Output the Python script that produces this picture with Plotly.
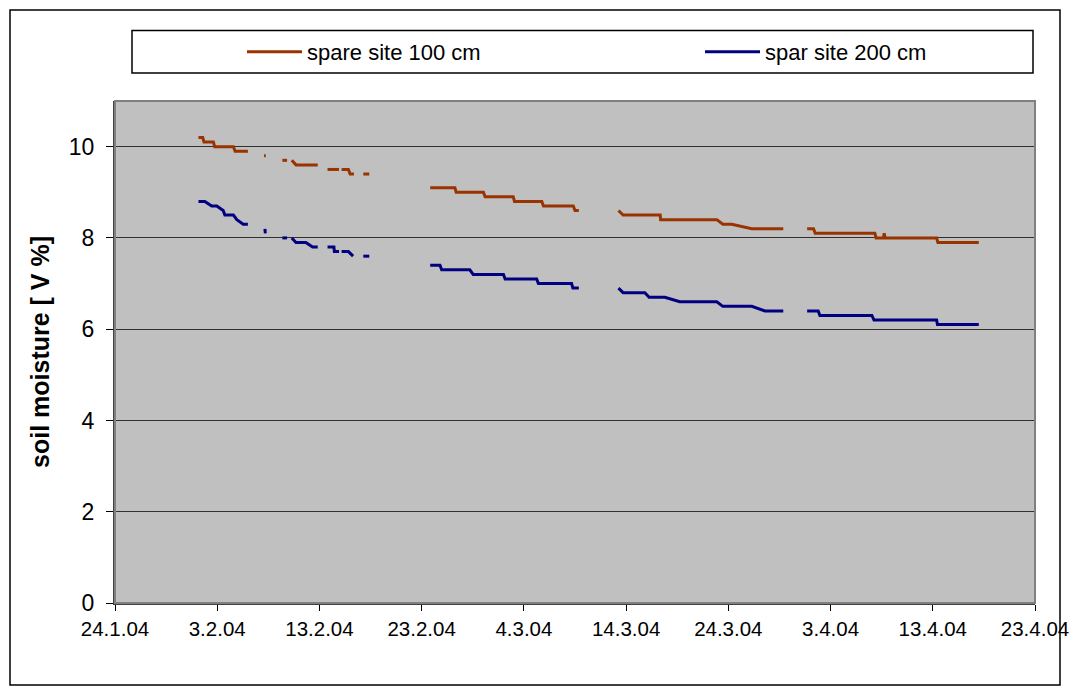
import plotly.graph_objects as go

# ---- data (None marks a gap in the record) ----
dates_100 = [
    "2004-02-01 04:00", "2004-02-01 14:00", "2004-02-01 17:00", "2004-02-02 15:00", "2004-02-02 18:00",
    "2004-02-04 14:00", "2004-02-04 18:00", "2004-02-06 00:00", None,
    "2004-02-07 14:00", "2004-02-07 18:00", None,
    "2004-02-09 09:00", "2004-02-09 20:00", None,
    "2004-02-10 07:00", "2004-02-10 17:00", "2004-02-12 20:00", None,
    "2004-02-13 19:00", "2004-02-14 22:00", None,
    "2004-02-15 04:00", "2004-02-15 20:00", "2004-02-16 00:00", "2004-02-16 09:00", None,
    "2004-02-17 07:00", "2004-02-17 21:00", None,
    "2004-02-23 20:00", "2004-02-26 06:00", "2004-02-26 09:00", "2004-02-29 01:00", "2004-02-29 05:00",
    "2004-03-02 23:00", "2004-03-03 02:00", "2004-03-05 18:00", "2004-03-05 22:00", "2004-03-08 20:00",
    "2004-03-09 00:00", "2004-03-09 09:00", None,
    "2004-03-13 06:00", "2004-03-13 17:00", "2004-03-17 08:00", "2004-03-17 09:00", "2004-03-22 21:00",
    "2004-03-23 11:00", "2004-03-24 08:00", "2004-03-26 07:00", "2004-03-29 09:00", None,
    "2004-03-31 17:00", "2004-04-01 08:00", "2004-04-01 12:00", "2004-04-07 08:00", "2004-04-07 11:00",
    "2004-04-08 04:00", "2004-04-08 06:00", "2004-04-08 08:00", "2004-04-13 09:00", "2004-04-13 12:00",
    "2004-04-17 12:00",
]
vals_100 = [
    10.2, 10.2, 10.1, 10.1, 10.0,
    10.0, 9.9, 9.9, None,
    9.8, 9.8, None,
    9.7, 9.7, None,
    9.7, 9.6, 9.6, None,
    9.5, 9.5, None,
    9.5, 9.5, 9.4, 9.4, None,
    9.4, 9.4, None,
    9.1, 9.1, 9.0, 9.0, 8.9,
    8.9, 8.8, 8.8, 8.7, 8.7,
    8.6, 8.6, None,
    8.6, 8.5, 8.5, 8.4, 8.4,
    8.3, 8.3, 8.2, 8.2, None,
    8.2, 8.2, 8.1, 8.1, 8.0,
    8.0, 8.1, 8.0, 8.0, 7.9,
    7.9,
]

dates_200 = [
    "2004-02-01 04:00", "2004-02-01 19:00", "2004-02-02 11:00", "2004-02-02 23:00", "2004-02-03 14:00",
    "2004-02-03 18:00", "2004-02-04 14:00", "2004-02-04 22:00", "2004-02-05 13:00", "2004-02-06 00:00", None,
    "2004-02-07 16:00", "2004-02-07 17:00", None,
    "2004-02-09 09:00", "2004-02-09 20:00", None,
    "2004-02-10 07:00", "2004-02-10 17:00", "2004-02-11 16:00", "2004-02-12 08:00", "2004-02-12 20:00", None,
    "2004-02-13 19:00", "2004-02-14 10:00", "2004-02-14 11:00", "2004-02-14 22:00", None,
    "2004-02-15 04:00", "2004-02-15 20:00", "2004-02-16 07:00", None,
    "2004-02-17 07:00", "2004-02-17 21:00", None,
    "2004-02-23 20:00", "2004-02-24 19:00", "2004-02-24 23:00", "2004-02-27 17:00", "2004-02-28 01:00",
    "2004-03-02 00:00", "2004-03-02 04:00", "2004-03-05 06:00", "2004-03-05 10:00", "2004-03-08 16:00",
    "2004-03-08 19:00", "2004-03-09 09:00", None,
    "2004-03-13 06:00", "2004-03-13 17:00", "2004-03-15 20:00", "2004-03-16 06:00", "2004-03-17 19:00",
    "2004-03-19 06:00", "2004-03-22 21:00", "2004-03-23 11:00", "2004-03-26 07:00", "2004-03-27 14:00",
    "2004-03-29 09:00", None,
    "2004-03-31 17:00", "2004-04-01 19:00", "2004-04-01 23:00", "2004-04-07 01:00", "2004-04-07 06:00",
    "2004-04-13 09:00", "2004-04-13 11:00", "2004-04-17 12:00",
]
vals_200 = [
    8.8, 8.8, 8.7, 8.7, 8.6,
    8.5, 8.5, 8.4, 8.3, 8.3, None,
    8.2, 8.1, None,
    8.0, 8.0, None,
    8.0, 7.9, 7.9, 7.8, 7.8, None,
    7.8, 7.8, 7.7, 7.7, None,
    7.7, 7.7, 7.6, None,
    7.6, 7.6, None,
    7.4, 7.4, 7.3, 7.3, 7.2,
    7.2, 7.1, 7.1, 7.0, 7.0,
    6.9, 6.9, None,
    6.9, 6.8, 6.8, 6.7, 6.7,
    6.6, 6.6, 6.5, 6.5, 6.4,
    6.4, None,
    6.4, 6.4, 6.3, 6.3, 6.2,
    6.2, 6.1, 6.1,
]

series_names = ["spare site 100 cm", "spar site 200 cm"]
series_colors = ["#993300", "#000080"]

x_range = ["2004-01-24", "2004-04-23"]
y_range = [0, 11]

FONT = "Arial, Liberation Sans, sans-serif"

fig = go.Figure()
fig.add_trace(go.Scatter(x=dates_100, y=vals_100, mode="lines", name=series_names[0],
                         line=dict(color=series_colors[0], width=3), connectgaps=False,
                         legend="legend"))
fig.add_trace(go.Scatter(x=dates_200, y=vals_200, mode="lines", name=series_names[1],
                         line=dict(color=series_colors[1], width=3), connectgaps=False,
                         legend="legend2"))

leg_common = dict(
    orientation="h", xanchor="left", yanchor="middle",
    y=(603 - 52) / 502,
    bgcolor="rgba(0,0,0,0)", borderwidth=0,
    font=dict(family=FONT, size=22, color="black"),
    itemwidth=55,
)

fig.update_layout(
    width=1071, height=695,
    margin=dict(l=115, r=36, t=101, b=92, autoexpand=False),
    paper_bgcolor="white",
    plot_bgcolor="#C0C0C0",
    font=dict(family=FONT, color="black", size=20),
    showlegend=True,
    legend=dict(x=(242 - 115) / 920, **leg_common),
    legend2=dict(x=(700 - 115) / 920, **leg_common),
    xaxis=dict(
        type="date", range=x_range, tick0="2004-01-24", dtick=10 * 86400000,
        tickformat="%-d.%-m.%y", ticks="outside", ticklen=6, tickcolor="black",
        showgrid=False, showline=True, linecolor="#404040", linewidth=2,
        tickfont=dict(size=20.5), zeroline=False, automargin=False,
    ),
    yaxis=dict(
        range=y_range, tick0=0, dtick=2, ticks="outside", ticklen=7, tickcolor="black",
        showgrid=True, gridcolor="#303030", gridwidth=1,
        showline=True, linecolor="#404040", linewidth=2, zeroline=False,
        tickfont=dict(size=23), ticklabelstandoff=7, automargin=False,
        title=dict(text="<b>soil moisture [ V %]</b>", font=dict(size=25), standoff=12),
    ),
    shapes=[
        dict(type="rect", xref="paper", yref="paper", x0=0, x1=1, y0=0, y1=1,
             line=dict(color="#808080", width=2), layer="above"),
        dict(type="rect", xref="paper", yref="paper",
             x0=(132 - 115) / 920, x1=(1033 - 115) / 920,
             y0=(603 - 73) / 502, y1=(603 - 30.5) / 502,
             line=dict(color="black", width=1.5), fillcolor="rgba(0,0,0,0)"),
        dict(type="rect", xref="paper", yref="paper",
             x0=(10 - 115) / 920, x1=(1060 - 115) / 920,
             y0=(603 - 685) / 502, y1=(603 - 10) / 502,
             line=dict(color="black", width=1.5), fillcolor="rgba(0,0,0,0)"),
    ],
)

fig.write_html("out.html")
